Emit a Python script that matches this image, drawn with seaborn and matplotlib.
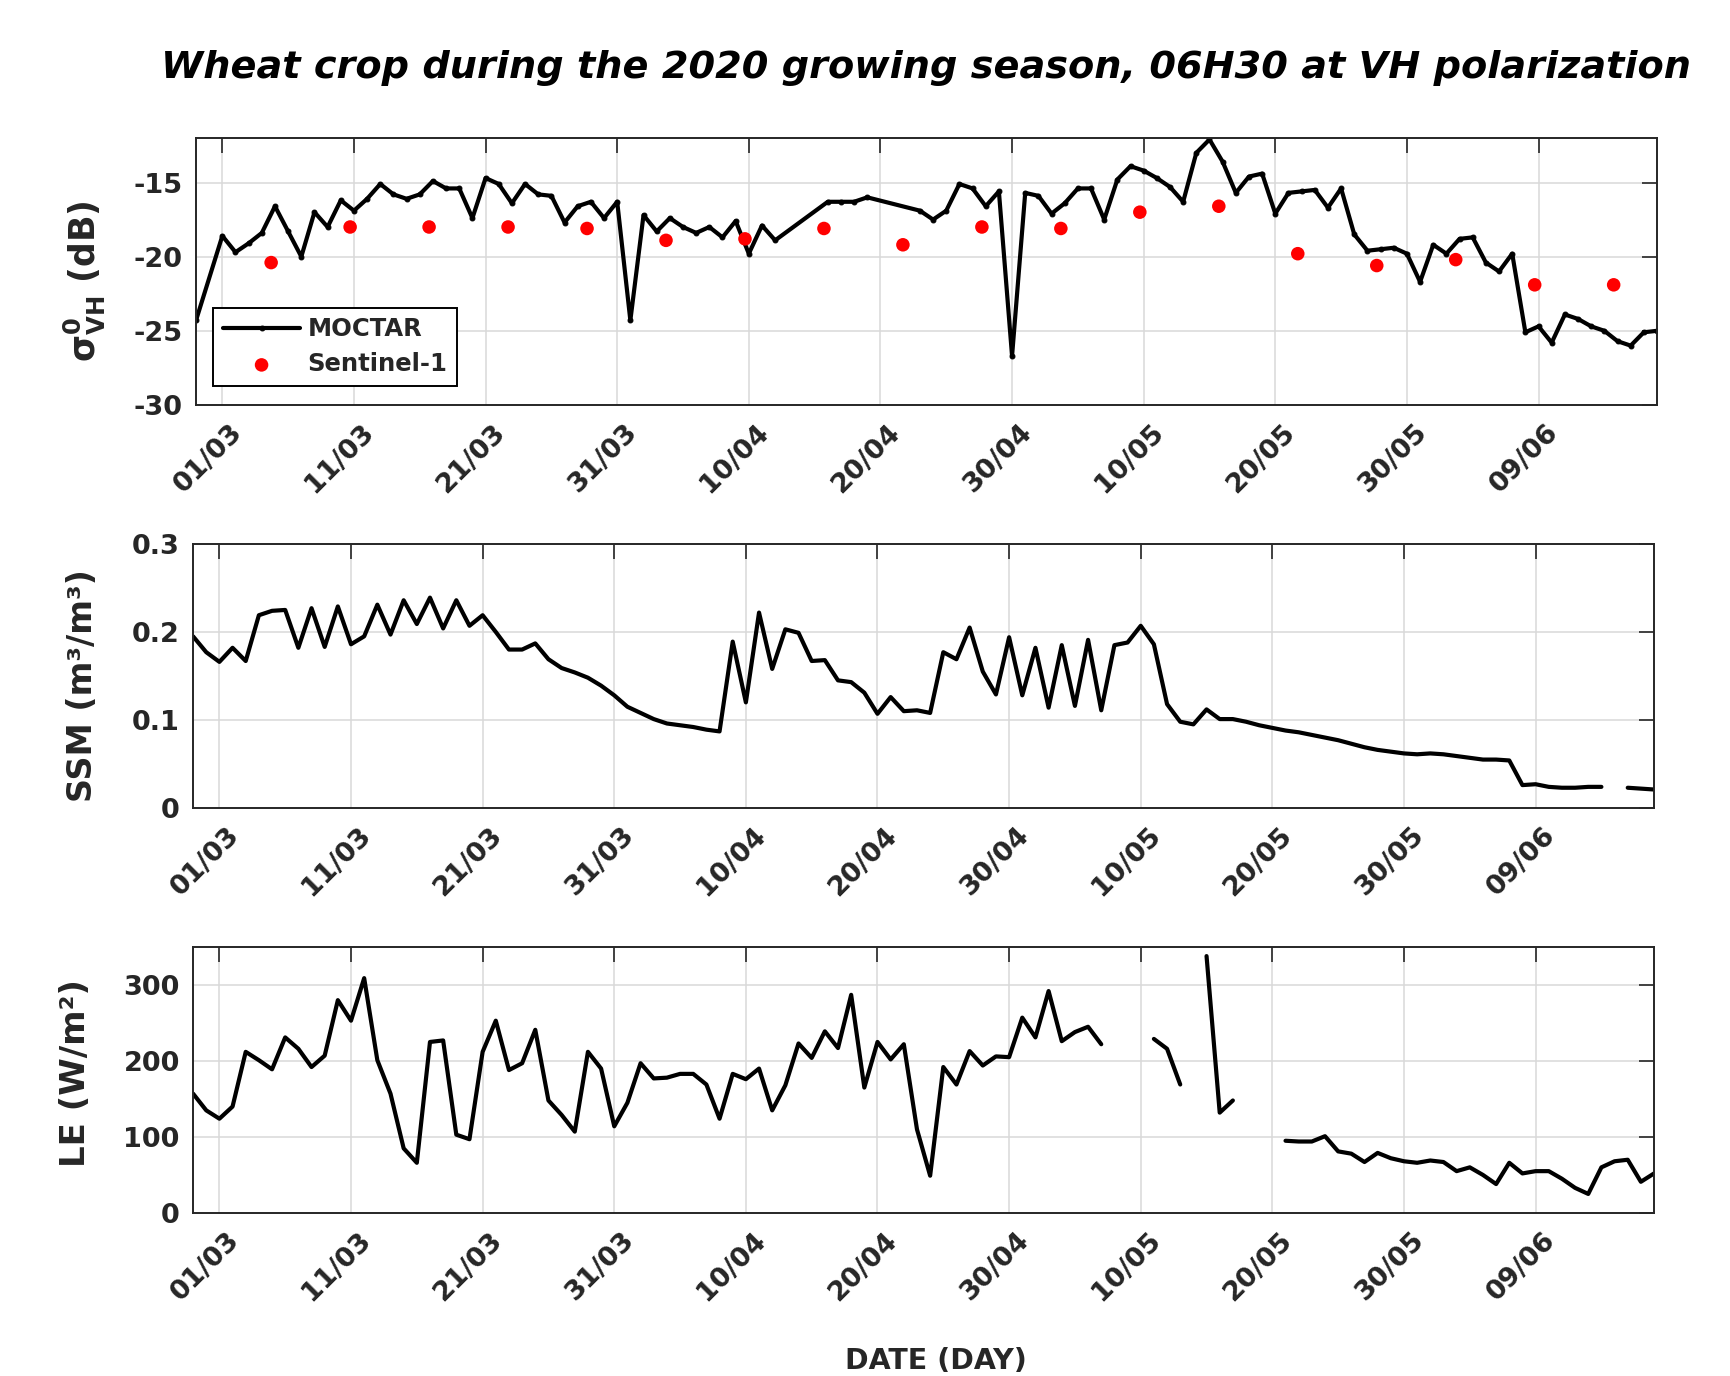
import numpy as np
import pandas as pd
import seaborn as sns
import matplotlib.pyplot as plt
import matplotlib.dates as mdates
from matplotlib.transforms import ScaledTranslation

nan = np.nan

# MOCTAR sigma0 VH (dB), day numbers counted from 01/03/2020
moctar_day = [-2, 0, 1, 2, 3, 4, 5, 6, 7, 8, 9, 10, 11, 12, 13, 14, 15, 16, 17, 18,
              19, 20, 21, 22, 23, 24, 25, 26, 27, 28, 29, 30, 31, 32, 33, 34, 35, 36,
              37, 38, 39, 40, 41, 42, 46, 47, 48, 49, 53, 54, 55, 56, 57, 58, 59, 60,
              61, 62, 63, 64, 65, 66, 67, 68, 69, 70, 71, 72, 73, 74, 75, 76, 77, 78,
              79, 80, 81, 82, 83, 84, 85, 86, 87, 88, 89, 90, 91, 92, 93, 94, 95, 96,
              97, 98, 99, 100, 101, 102, 103, 104, 105, 106, 107, 108, 109]
moctar_vh = [-24.3, -18.6, -19.7, -19.1, -18.4, -16.6, -18.3, -20.0, -17.0, -18.0,
             -16.2, -16.9, -16.1, -15.1, -15.8, -16.1, -15.8, -14.9, -15.4, -15.4,
             -17.4, -14.7, -15.1, -16.4, -15.1, -15.8, -15.9, -17.7, -16.6, -16.3,
             -17.4, -16.3, -24.3, -17.2, -18.3, -17.4, -18.0, -18.4, -18.0, -18.7,
             -17.6, -19.8, -17.9, -18.9, -16.3, -16.3, -16.3, -16.0, -16.9, -17.5,
             -16.9, -15.1, -15.4, -16.6, -15.6, -26.7, -15.7, -15.9, -17.1, -16.4,
             -15.4, -15.4, -17.5, -14.8, -13.9, -14.2, -14.7, -15.3, -16.3, -13.0,
             -12.1, -13.6, -15.7, -14.6, -14.4, -17.1, -15.7, -15.6, -15.5, -16.7,
             -15.4, -18.5, -19.6, -19.5, -19.4, -19.8, -21.7, -19.2, -19.8, -18.8,
             -18.7, -20.4, -21.0, -19.8, -25.1, -24.7, -25.8, -23.9, -24.2, -24.7,
             -25.0, -25.7, -26.0, -25.1, -25.0]

# Sentinel-1 acquisitions
s1_date = ['2020-03-04 17:00', '2020-03-10 17:00', '2020-03-16 17:00', '2020-03-22 17:00',
           '2020-03-28 17:00', '2020-04-03 17:00', '2020-04-09 17:00', '2020-04-15 17:00',
           '2020-04-21 17:00', '2020-04-27 17:00', '2020-05-03 17:00', '2020-05-09 17:00',
           '2020-05-15 17:00', '2020-05-21 17:00', '2020-05-27 17:00', '2020-06-02 17:00',
           '2020-06-08 17:00', '2020-06-14 17:00']
s1_vh = [-20.4, -18.0, -18.0, -18.0, -18.1, -18.9, -18.8, -18.1, -19.2, -18.0,
         -18.1, -17.0, -16.6, -19.8, -20.6, -20.2, -21.9, -21.9]

# daily series 28/02 -> 18/06 (nan = no data)
ssm = [0.195, 0.177, 0.166, 0.182, 0.167, 0.219, 0.224, 0.225, 0.182, 0.227,
       0.183, 0.229, 0.186, 0.195, 0.231, 0.197, 0.236, 0.209, 0.239, 0.204,
       0.236, 0.207, 0.219, 0.200, 0.180, 0.180, 0.187, 0.169, 0.159, 0.154,
       0.148, 0.139, 0.128, 0.115, 0.108, 0.101, 0.096, 0.094, 0.092, 0.089,
       0.087, 0.189, 0.120, 0.222, 0.158, 0.203, 0.199, 0.167, 0.168, 0.145,
       0.143, 0.131, 0.107, 0.126, 0.110, 0.111, 0.108, 0.177, 0.169, 0.205,
       0.155, 0.129, 0.194, 0.128, 0.182, 0.114, 0.185, 0.116, 0.191, 0.111,
       0.185, 0.188, 0.207, 0.186, 0.118, 0.098, 0.095, 0.112, 0.101, 0.101,
       0.098, 0.094, 0.091, 0.088, 0.086, 0.083, 0.080, 0.077, 0.073, 0.069,
       0.066, 0.064, 0.062, 0.061, 0.062, 0.061, 0.059, 0.057, 0.055, 0.055,
       0.054, 0.026, 0.027, 0.024, 0.023, 0.023, 0.024, 0.024, nan, 0.023,
       0.022, 0.021]
le = [157, 135, 124, 140, 212, 201, 189, 231, 216, 192,
      207, 280, 253, 309, 201, 157, 85, 66, 225, 227,
      103, 97, 212, 253, 188, 197, 241, 148, 129, 107,
      212, 190, 114, 145, 197, 177, 178, 183, 183, 169,
      124, 183, 176, 190, 135, 168, 223, 204, 239, 217,
      287, 165, 225, 202, 222, 110, 49, 192, 169, 213,
      194, 206, 205, 257, 231, 292, 226, 238, 245, 222,
      nan, nan, nan, 229, 216, 169, nan, 338, 132, 148,
      nan, nan, nan, 95, 94, 94, 101, 81, 78, 67,
      79, 72, 68, 66, 69, 67, 55, 60, 50, 38,
      66, 52, 55, 55, 45, 33, 25, 60, 68, 70,
      41, 52]

day0 = pd.Timestamp('2020-03-01')
days = pd.date_range('2020-02-28', '2020-06-18', freq='D')
xticks = pd.date_range('2020-03-01', periods=11, freq='10D')

sns.set_theme(style='white')
plt.rcParams['font.family'] = ['DejaVu Sans']
plt.rcParams['font.weight'] = 'bold'
plt.rcParams['mathtext.default'] = 'bf'
edge = '#262626'


def pieces(vals):
    s = pd.Series(vals)
    df = pd.DataFrame({'date': days, 'val': s.values, 'seg': s.isna().cumsum().values})
    return df.dropna()


fig = plt.figure(figsize=(17.3, 13.76), dpi=100)
ax1 = fig.add_axes([0.1133, 0.7057, 0.8445, 0.1940])
ax2 = fig.add_axes([0.1116, 0.4128, 0.8445, 0.1919])
ax3 = fig.add_axes([0.1116, 0.1185, 0.8445, 0.1933])

moctar_dates = day0 + pd.to_timedelta(moctar_day, unit='D')
sns.lineplot(x=moctar_dates, y=moctar_vh, color='black', lw=3, marker='.',
             markersize=7, markeredgecolor='black', label='MOCTAR', ax=ax1)
sns.scatterplot(x=pd.to_datetime(s1_date), y=s1_vh, color='red', s=95,
                edgecolor='none', label='Sentinel-1', ax=ax1, zorder=3)

sns.lineplot(data=pieces(ssm), x='date', y='val', units='seg', estimator=None,
             color='black', lw=3, ax=ax2)
sns.lineplot(data=pieces(le), x='date', y='val', units='seg', estimator=None,
             color='black', lw=3, ax=ax3)

setup = [(ax1, (-30, -12), [-30, -25, -20, -15], r'$\sigma^{0}_{VH}$ (dB)', -0.060, 0.463, 25),
         (ax2, (0, 0.3), [0, 0.1, 0.2, 0.3], 'SSM (m³/m³)', -0.0645, 0.462, 24),
         (ax3, (0, 350), [0, 100, 200, 300], 'LE (W/m²)', -0.0695, 0.525, 24.5)]
for ax, ylim, yt, ylab, lx, ly, lsize in setup:
    ax.set_xlim(days[0], days[-1])
    ax.set_ylim(*ylim)
    ax.set_yticks(yt)
    ax.set_yticklabels([f'{v:g}' for v in yt])
    ax.set_xticks(xticks)
    ax.xaxis.set_major_formatter(mdates.DateFormatter('%d/%m'))
    ax.grid(True, color='#d8d8d8', lw=1.1)
    ax.set_axisbelow(True)
    ax.tick_params(direction='in', top=True, right=True, length=11, width=1.2,
                   color=edge, labelcolor=edge, labelsize=19.5)
    ax.tick_params(axis='y', pad=9.5)
    ax.tick_params(axis='x', pad=10)
    for sp in ax.spines.values():
        sp.set_color(edge)
        sp.set_linewidth(1.4)
    ax.set_xlabel('')
    ax.set_ylabel(ylab, fontsize=lsize, fontweight='bold', color=edge)
    ax.yaxis.set_label_coords(lx, ly)
    shift = ScaledTranslation(0.07, 0, fig.dpi_scale_trans)
    for lab in ax.get_xticklabels():
        lab.set_rotation(45)
        lab.set_ha('right')
        lab.set_va('top')
        lab.set_rotation_mode('anchor')
        lab.set_fontweight('bold')
        lab.set_transform(lab.get_transform() + shift)
    for lab in ax.get_yticklabels():
        lab.set_fontweight('bold')

leg = ax1.legend(loc='lower left', bbox_to_anchor=(0.0116, 0.071), borderaxespad=0,
                 frameon=True, fancybox=False, edgecolor='black', framealpha=1,
                 handlelength=3.2, handletextpad=0.3, borderpad=0.4, labelspacing=0.45,
                 prop={'size': 17.5, 'weight': 'bold'})
leg.get_frame().set_linewidth(1.4)

fig.text(0.5355, 0.9506, 'Wheat crop during the 2020 growing season, 06H30 at VH polarization',
         ha='center', va='center', fontsize=27.5, fontweight='bold', fontstyle='italic',
         color='black')
fig.text(0.5408, 0.011, 'DATE (DAY)', ha='center', va='center', fontsize=20.5,
         fontweight='bold', color=edge)

fig.savefig('out.png', dpi=100)
